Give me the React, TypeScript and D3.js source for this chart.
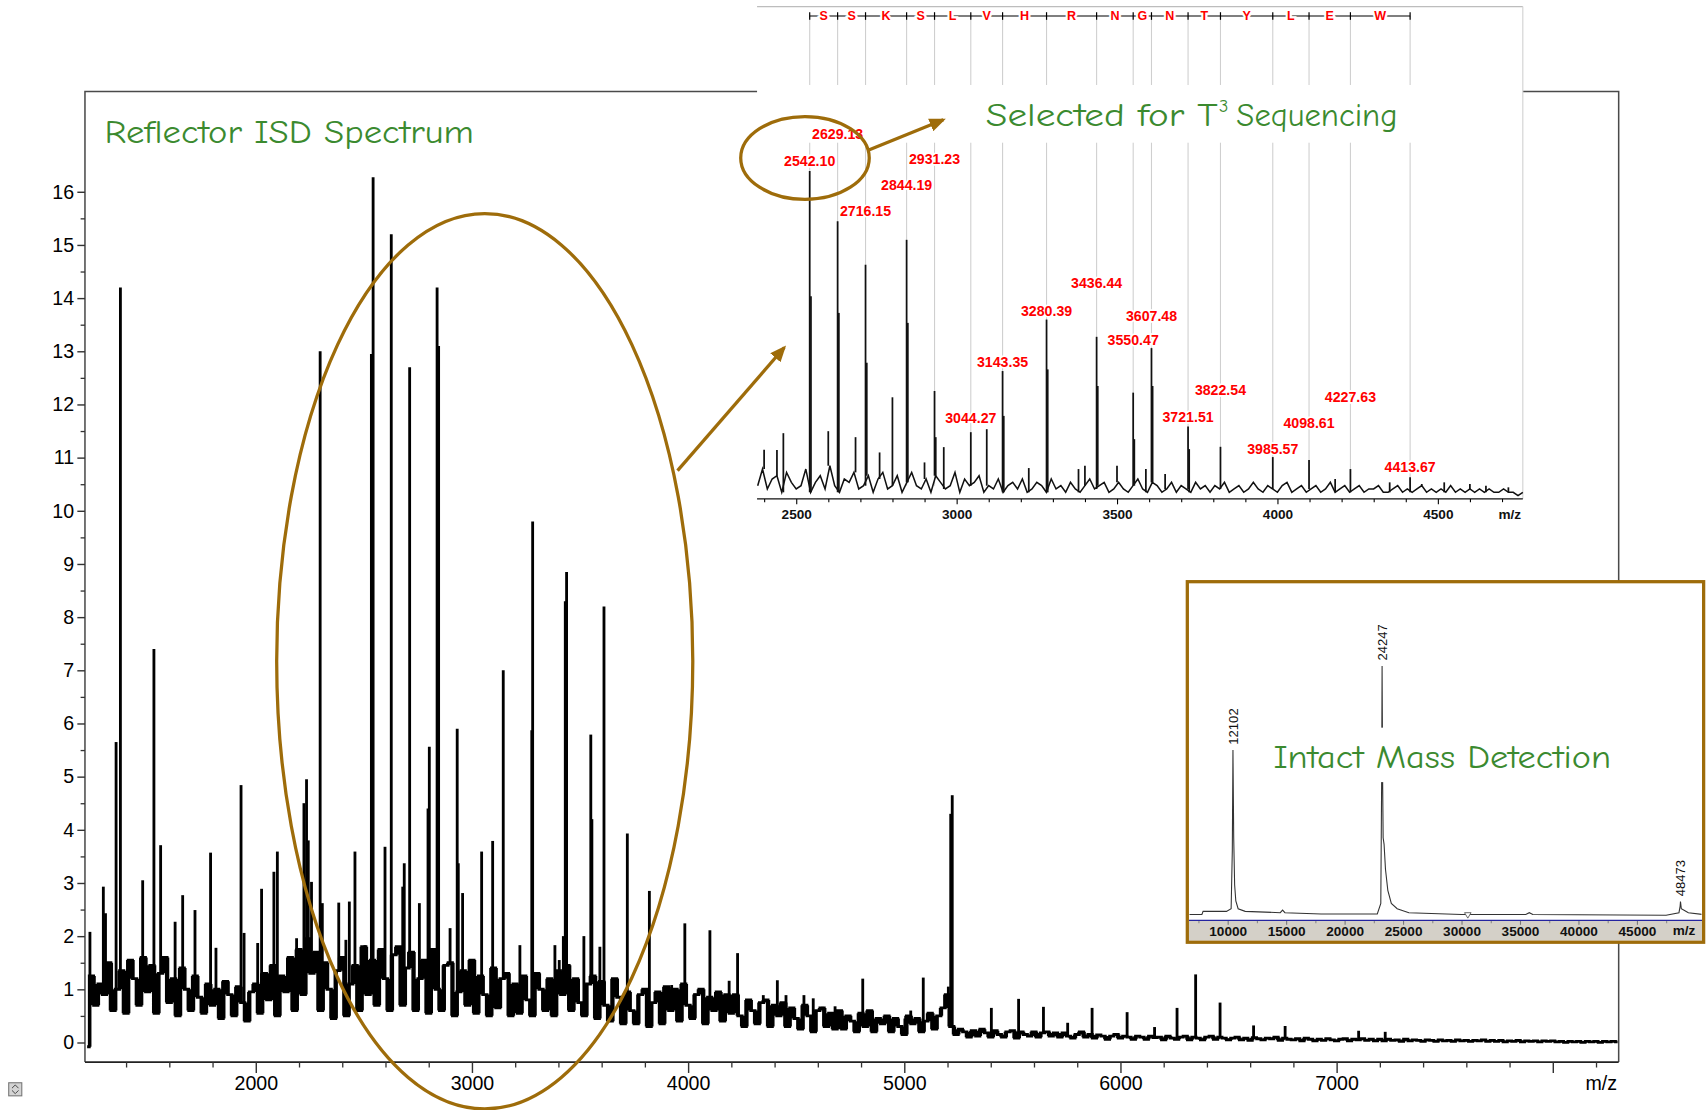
import React, { useEffect, useRef } from "react";
import * as d3 from "d3";

// ---------- Reflector ISD spectrum ----------
// noise floor, one value every 20 Da starting at 1220
const isdNoiseStart = 1220;
const isdNoiseStep = 20;
const isdNoise = [
  -0.08, 1.25, 0.7, 1.1, 0.9, 1.5, 0.6, 1.0, 1.35, 0.55, 1.55, 1.2, 0.7, 1.6, 0.95, 1.45, 0.55, 1.3, 1.6, 0.75, 1.2, 0.5, 1.4, 1.0, 0.6,
  1.25, 0.85, 0.55, 1.1, 0.7, 1.0, 0.45, 1.15, 0.9, 0.5, 1.05, 0.75, 0.4, 0.95, 1.1, 0.55, 1.3, 0.8, 1.45, 0.5, 1.25, 0.95, 1.6, 0.6, 1.75,
  0.9, 1.95, 1.3, 1.7, 0.6, 1.5, 1.0, 0.45, 1.35, 1.6, 0.5, 1.1, 1.45, 0.6, 1.8, 0.9, 1.55, 0.7, 1.75, 1.2, 0.6, 1.65, 1.8, 0.7, 1.4,
  1.7, 0.6, 1.2, 1.55, 0.55, 1.75, 1.0, 0.6, 1.45, 1.5, 0.5, 0.95, 1.35, 0.7, 1.55, 0.55, 1.25, 0.9, 0.5, 1.4, 0.65, 1.2, 1.3, 0.5, 1.1,
  0.55, 1.25, 0.8, 0.5, 1.3, 1.0, 0.6, 1.2, 0.5, 1.35, 0.9, 1.45, 0.6, 1.2, 0.75, 0.5, 1.1, 1.25, 0.45, 1.15, 0.7, 0.4, 1.2, 0.85, 0.35,
  0.95, 0.6, 0.35, 0.9, 1.0, 0.3, 0.75, 0.95, 0.35, 1.05, 0.6, 1.0, 0.4, 1.1, 0.7, 0.45, 0.9, 1.0, 0.35, 0.85, 0.6, 0.95, 0.4, 0.9, 0.55,
  0.9, 0.5, 0.3, 0.8, 0.6, 0.35, 0.75, 0.8, 0.3, 0.7, 0.5, 0.75, 0.3, 0.65, 0.45, 0.25, 0.7, 0.5, 0.2, 0.6, 0.65, 0.3, 0.55, 0.25, 0.6,
  0.25, 0.5, 0.4, 0.2, 0.55, 0.3, 0.6, 0.2, 0.45, 0.35, 0.5, 0.2, 0.45, 0.3, 0.15, 0.5, 0.35, 0.45, 0.2, 0.4, 0.55, 0.25, 0.5, 0.65, 0.9,
  0.3, 0.15, 0.25, 0.2, 0.1, 0.22, 0.12, 0.25, 0.18, 0.1, 0.22, 0.15, 0.1, 0.2, 0.22, 0.08, 0.2, 0.15, 0.12, 0.2, 0.1, 0.18, 0.2, 0.12, 0.18,
  0.1, 0.18, 0.12, 0.08, 0.15, 0.2, 0.1, 0.15, 0.08, 0.14, 0.12, 0.06, 0.12, 0.15, 0.08, 0.12, 0.1, 0.06, 0.12, 0.1, 0.06, 0.12, 0.09, 0.1, 0.05,
  0.12, 0.08, 0.06, 0.1, 0.12, 0.05, 0.1, 0.08, 0.05, 0.1, 0.12, 0.06, 0.1, 0.08, 0.05, 0.08, 0.1, 0.05, 0.08, 0.04, 0.09, 0.07, 0.05, 0.08, 0.07,
  0.1, 0.04, 0.08, 0.06, 0.05, 0.07, 0.03, 0.08, 0.06, 0.03, 0.06, 0.04, 0.07, 0.05, 0.03, 0.06, 0.07, 0.03, 0.06, 0.05, 0.07, 0.04, 0.06, 0.03, 0.06,
  0.03, 0.06, 0.04, 0.05, 0.02, 0.06, 0.03, 0.05, 0.04, 0.02, 0.05, 0.04, 0.02, 0.05, 0.03, 0.04, 0.02, 0.05, 0.03, 0.04, 0.02, 0.04, 0.03, 0.05, 0.02,
  0.04, 0.02, 0.04, 0.01, 0.03, 0.02, 0.04, 0.01, 0.03, 0.02, 0.03, 0.01, 0.03, 0.02, 0.03, 0.01, 0.02, 0.0, 0.02, 0.01, 0.02, 0.0, 0.02, 0.01, 0.02,
  0.0, 0.02, 0.01, 0.02, 0.01,
];
// [m/z, height]
const isdPeaks: [number, number][] = [
  [1233, 2.08], [1295, 2.93], [1305, 2.43], [1354, 5.65], [1374, 14.2], [1477, 3.05], [1529, 7.4], [1560, 3.71],
  [1627, 2.27], [1662, 2.77], [1719, 2.49], [1791, 3.57], [1816, 1.78], [1932, 4.84], [1946, 2.06], [2009, 1.87],
  [2027, 2.89], [2084, 3.21], [2100, 3.59], [2166, 1.61], [2189, 1.96], [2223, 4.5], [2235, 4.95], [2243, 3.8],
  [2258, 3.02], [2298, 13.0], [2308, 2.62], [2384, 2.63], [2417, 1.93], [2433, 2.65], [2459, 3.59], [2505, 1.83],
  [2535, 12.95], [2543, 16.27], [2567, 1.61], [2598, 3.68], [2627, 15.2], [2680, 2.93], [2687, 3.37], [2712, 12.7],
  [2757, 2.62], [2797, 4.4], [2803, 5.56], [2839, 14.2], [2846, 13.1], [2899, 2.15], [2932, 5.9], [2937, 3.37],
  [2957, 2.81], [3045, 3.59], [3096, 3.79], [3145, 7.0], [3222, 1.83], [3277, 5.87], [3281, 9.8], [3384, 1.83],
  [3404, 1.55], [3423, 2.0], [3432, 8.3], [3438, 8.85], [3518, 2.0], [3550, 5.79], [3555, 4.2], [3592, 1.8],
  [3611, 8.2], [3674, 1.2], [3719, 3.93], [3821, 2.85], [3924, 1.08], [3975, 1.05], [3985, 2.24], [4032, 0.92],
  [4063, 0.95], [4101, 2.11], [4190, 1.16], [4229, 1.68], [4348, 0.89], [4413, 1.17], [4453, 0.89], [4536, 0.89],
  [4579, 0.83], [4622, 0.67], [4680, 0.68], [4808, 1.2], [4845, 0.58], [5003, 0.45], [5030, 0.6], [5088, 1.22],
  [5178, 0.6], [5204, 1.05], [5215, 4.3], [5222, 4.65], [5403, 0.65], [5529, 0.82], [5644, 0.67], [5756, 0.37],
  [5869, 0.65], [6031, 0.57], [6158, 0.29], [6262, 0.65], [6348, 1.28], [6461, 0.75], [6616, 0.32], [6762, 0.31],
  [7102, 0.22], [7225, 0.2],
];
const isdYTicks = [0, 1, 2, 3, 4, 5, 6, 7, 8, 9, 10, 11, 12, 13, 14, 15, 16];
const isdXTicks = [2000, 3000, 4000, 5000, 6000, 7000, 8000];
const isdXLabels = ["2000", "3000", "4000", "5000", "6000", "7000", ""];

// ---------- T3 sequencing inset ----------
const t3NoiseStart = 2380;
const t3NoiseStep = 15;
const t3Noise = [
  3, 8, 2, 5, 6, 1, 7, 4, 2, 3, 8, 1, 4, 6, 2, 9, 3, 1, 5, 4, 7, 2, 3, 6, 1,
  5, 7, 2, 3, 6, 1, 4, 7, 3, 2, 5, 1, 6, 4, 2, 3, 7, 1, 5, 3, 4, 6, 1, 3, 2,
  5, 1, 3, 4, 2, 5, 1, 2, 4, 3, 1, 5, 2, 3, 1, 4, 2, 1, 3, 5, 2, 3, 4, 1, 2,
  4, 2, 1, 3, 5, 2, 1, 4, 3, 1, 2, 4, 1, 3, 2, 1, 4, 2, 3, 1, 3, 2, 4, 1, 2,
  3, 1, 2, 4, 2, 1, 3, 2, 1, 3, 4, 1, 2, 3, 1, 2, 3, 1, 2, 4, 1, 2, 3, 1, 2,
  3, 1, 2, 2, 3, 1, 1, 2, 3, 1, 2, 1, 2, 3, 1, 2, 1, 2, 1, 3, 1, 2, 1, 2, 1,
  2, 1, 2, 1, 1, 2, 1, 1, 0, 1,
];
const t3Peaks: [number, number][] = [
  [2400, 13.8], [2440, 13.7], [2460, 18.8], [2542.1, 97.7], [2546, 60], [2600, 19.4], [2629.13, 82.6], [2633, 55],
  [2685, 17.6], [2716.15, 69.5], [2720, 40], [2760, 13], [2800, 29.6], [2844.19, 77], [2848, 52], [2900, 10],
  [2931.23, 31.5], [2935, 17.6], [2960, 14.6], [3044.27, 19.1], [3094, 20], [3143.35, 37.5], [3147, 24], [3225, 8.3],
  [3280.39, 53], [3284, 38], [3380, 8], [3400, 9], [3436.44, 47.8], [3440, 33], [3500, 9], [3550.47, 31],
  [3554, 17], [3590, 8], [3607.48, 44.4], [3611, 33], [3650, 6.5], [3721.51, 20.8], [3725, 14], [3822.54, 14.7],
  [3985.57, 11.6], [4098.61, 10.7], [4180, 5], [4227.63, 8], [4350, 4], [4413.67, 5.5], [4450, 3.5], [4520, 4],
  [4600, 3.5], [4650, 3], [4720, 2.5],
];
const fragMasses = [
  2542.1, 2629.13, 2716.15, 2844.19, 2931.23, 3044.27, 3143.35, 3280.39, 3436.44,
  3550.47, 3607.48, 3721.51, 3822.54, 3985.57, 4098.61, 4227.63, 4413.67,
];
const fragLabelLevel = [100.7, 108.9, 85.6, 93.4, 101.3, 23.3, 40.3, 55.7, 63.9, 46.9, 54.1, 23.6, 31.8, 14.1, 22, 29.8, 8.5];
const seqLetters = ["S", "S", "K", "S", "L", "V", "H", "R", "N", "G", "N", "T", "Y", "L", "E", "W"];
const t3XTicks = [2500, 3000, 3500, 4000, 4500];

// ---------- intact mass inset ----------
const intactTrace: [number, number][] = [
  [6600, 0.8], [7800, 0.8], [7900, 2], [9900, 2], [10300, 3], [10400, 25], [10456, 63.3], [10520, 30], [10600, 12],
  [10700, 6], [10900, 3], [11500, 2], [14500, 1.5], [14700, 2.5], [14900, 1.5], [18000, 1], [22800, 1], [23100, 5],
  [23170, 50], [23210, 95.3], [23260, 50], [23300, 30], [23380, 27.5], [23500, 18], [23700, 10], [24000, 5], [24500, 3],
  [25500, 1.5], [30000, 0.8], [35500, 0.8], [35800, 1.5], [36100, 0.8], [47500, 0.5], [48600, 1.5], [48700, 4],
  [48730, 5.7], [48800, 3], [49000, 2.5], [49400, 1.5], [50700, 0.8],
];
const intactPeakPos = [10456, 23210, 48730];
const intactPeakHeight = [63.3, 95.3, 5.7];
const intactPeakLabels = ["12102", "24247", "48473"];
const intactXTicks = [10000, 15000, 20000, 25000, 30000, 35000, 40000, 45000];

const font = "Arial, 'Liberation Sans', Helvetica, sans-serif";
const comic = "'Comic Sans MS', 'Comic Neue', Lato, 'Noto Sans', sans-serif";
const brown = "#9E6C0A";
const green = "#3B8A2F";
const red = "#FF0000";

const App: React.FC = () => {
  const ref = useRef<SVGSVGElement>(null);

  useEffect(() => {
    document.body.style.margin = "0";
    document.body.style.overflow = "hidden";
    const svg = d3.select(ref.current);
    svg.selectAll("*").remove();

    const defs = svg.append("defs");
    defs
      .append("marker")
      .attr("id", "ah")
      .attr("viewBox", "0 0 12 10")
      .attr("refX", 10)
      .attr("refY", 5)
      .attr("markerWidth", 15)
      .attr("markerHeight", 12.5)
      .attr("markerUnits", "userSpaceOnUse")
      .attr("orient", "auto")
      .append("path")
      .attr("d", "M0,0L12,5L0,10z")
      .attr("fill", brown);

    // ================= main ISD plot =================
    const fr = { l: 78, t: 84, r: 1486, b: 975 };
    const x = d3.scaleLinear().domain([1210, 8305]).range([fr.l, fr.r]);
    const y = d3.scaleLinear().domain([0, 16]).range([957, 176]);

    svg
      .append("path")
      .attr("d", `M${fr.l},${fr.b}V${fr.t}H${fr.r}V${fr.b}`)
      .attr("fill", "none")
      .attr("stroke", "#4a4a4a")
      .attr("stroke-width", 1.4);
    svg
      .append("line")
      .attr("x1", fr.l)
      .attr("x2", fr.r)
      .attr("y1", fr.b)
      .attr("y2", fr.b)
      .attr("stroke", "#222")
      .attr("stroke-width", 1.6);

    const gy = svg
      .append("g")
      .attr("transform", `translate(${fr.l},0)`)
      .call(d3.axisLeft(y).tickValues(isdYTicks).tickSize(7).tickPadding(3).tickFormat(d3.format("d")));
    gy.select(".domain").remove();
    gy.attr("font-family", font).attr("font-size", 18);
    gy.selectAll("text").attr("fill", "#000");
    gy.selectAll("line").attr("stroke", "#333").attr("stroke-width", 1.3);

    const gyMinor = svg
      .append("g")
      .attr("transform", `translate(${fr.l},0)`)
      .call(d3.axisLeft(y).tickValues(isdYTicks.slice(0, -1).map((v) => v + 0.5)).tickSize(4).tickFormat(() => ""));
    gyMinor.select(".domain").remove();
    gyMinor.selectAll("line").attr("stroke", "#333").attr("stroke-width", 1.2);

    const gx = svg
      .append("g")
      .attr("transform", `translate(0,${fr.b})`)
      .call(
        d3
          .axisBottom(x)
          .tickValues(isdXTicks)
          .tickSize(10)
          .tickPadding(3)
          .tickFormat((_, i) => isdXLabels[i])
      );
    gx.select(".domain").remove();
    gx.attr("font-family", font).attr("font-size", 18);
    gx.selectAll("text").attr("fill", "#000");
    gx.selectAll("line").attr("stroke", "#333").attr("stroke-width", 1.3);

    const gxMinor = svg
      .append("g")
      .attr("transform", `translate(0,${fr.b})`)
      .call(
        d3
          .axisBottom(x)
          .tickValues(d3.range(1400, 8300, 200).filter((v) => v % 1000 !== 0))
          .tickSize(5)
          .tickFormat(() => "")
      );
    gxMinor.select(".domain").remove();
    gxMinor.selectAll("line").attr("stroke", "#333").attr("stroke-width", 1.2);

    svg
      .append("text")
      .attr("x", 1470)
      .attr("y", 1001)
      .attr("text-anchor", "middle")
      .attr("font-family", font)
      .attr("font-size", 18)
      .attr("fill", "#000")
      .text("m/z");

    const isdPts = isdNoise.map((v, i) => [isdNoiseStart + i * isdNoiseStep, v] as [number, number]);
    // filled band between neighbouring noise samples, so the floor reads as a dense trace
    const band = isdPts.slice(0, -1).map((d, i) => ({
      mz: d[0],
      lo: Math.min(d[1], isdPts[i + 1][1]),
      hi: Math.max(d[1], isdPts[i + 1][1]),
    }));
    svg
      .append("path")
      .datum(band)
      .attr(
        "d",
        d3
          .area<{ mz: number; lo: number; hi: number }>()
          .x((d) => x(d.mz + isdNoiseStep / 2))
          .y0((d) => y(d.lo))
          .y1((d) => y(d.hi))
          .curve(d3.curveStep)
      )
      .attr("fill", "#000");
    svg
      .append("path")
      .datum(isdPts)
      .attr(
        "d",
        d3
          .line<[number, number]>()
          .x((d) => x(d[0]))
          .y((d) => y(d[1]))
          .curve(d3.curveStep)
      )
      .attr("fill", "none")
      .attr("stroke", "#000")
      .attr("stroke-width", 2.6);

    const isdBase = (mz: number) =>
      isdNoise[Math.max(0, Math.min(isdNoise.length - 1, Math.round((mz - isdNoiseStart) / isdNoiseStep)))];
    svg
      .append("g")
      .selectAll("line")
      .data(isdPeaks)
      .join("line")
      .attr("x1", (d) => x(d[0]))
      .attr("x2", (d) => x(d[0]))
      .attr("y1", (d) => y(Math.min(isdBase(d[0]), d[1])))
      .attr("y2", (d) => y(d[1]))
      .attr("stroke", "#000")
      .attr("stroke-width", 2.6);

    // big selection ellipse
    svg
      .append("ellipse")
      .attr("cx", 445)
      .attr("cy", 607)
      .attr("rx", 191)
      .attr("ry", 411)
      .attr("fill", "none")
      .attr("stroke", brown)
      .attr("stroke-width", 3);

    svg
      .append("text")
      .attr("x", 96)
      .attr("y", 131)
      .attr("font-family", comic)
      .attr("font-size", 29)
      .attr("fill", green)
      .attr("textLength", 339)
      .attr("lengthAdjust", "spacingAndGlyphs")
      .text("Reflector ISD Spectrum");

    // small icon bottom-left
    svg.append("rect").attr("x", 8).attr("y", 994).attr("width", 12).attr("height", 12).attr("fill", "#d4d4d4").attr("stroke", "#777");
    svg.append("path").attr("d", "M11,999l3,-3l3,3M11,1001l3,3l3,-3").attr("fill", "none").attr("stroke", "#444").attr("stroke-width", 0.9);

    // ================= T3 inset =================
    const ix = d3.scaleLinear().domain([2378, 4765]).range([695, 1398]);
    const iy = d3.scaleLinear().domain([0, 100]).range([455, 150]);
    const seqY = 14.7;

    svg.append("rect").attr("x", 695).attr("y", 2).attr("width", 703).attr("height", 480).attr("fill", "#fff");
    svg.append("line").attr("x1", 695).attr("x2", 1398).attr("y1", 6).attr("y2", 6).attr("stroke", "#bdbdbd").attr("stroke-width", 1.2);
    svg.append("line").attr("x1", 1398).attr("x2", 1398).attr("y1", 6).attr("y2", 458).attr("stroke", "#d0d0d0").attr("stroke-width", 1);

    svg
      .append("g")
      .selectAll("line")
      .data(fragMasses)
      .join("line")
      .attr("x1", (d) => ix(d))
      .attr("x2", (d) => ix(d))
      .attr("y1", seqY)
      .attr("y2", iy(3))
      .attr("stroke", "#cfcfcf")
      .attr("stroke-width", 1);
    // band behind the heading
    svg.append("rect").attr("x", 696).attr("y", 78).attr("width", 701).attr("height", 53).attr("fill", "#fff");

    // sequence ladder
    svg
      .append("line")
      .attr("x1", ix(fragMasses[0]))
      .attr("x2", ix(fragMasses[fragMasses.length - 1]))
      .attr("y1", seqY)
      .attr("y2", seqY)
      .attr("stroke", "#000")
      .attr("stroke-width", 1.1);
    svg
      .append("g")
      .selectAll("line")
      .data(fragMasses)
      .join("line")
      .attr("x1", (d) => ix(d))
      .attr("x2", (d) => ix(d))
      .attr("y1", seqY - 3.5)
      .attr("y2", seqY + 3.5)
      .attr("stroke", "#000")
      .attr("stroke-width", 1.1);
    svg
      .append("g")
      .selectAll("text")
      .data(seqLetters)
      .join("text")
      .attr("x", (_, i) => (ix(fragMasses[i]) + ix(fragMasses[i + 1])) / 2)
      .attr("y", seqY + 4)
      .attr("text-anchor", "middle")
      .attr("font-family", font)
      .attr("font-weight", "bold")
      .attr("font-size", 11.5)
      .attr("fill", red)
      .attr("stroke", "#fff")
      .attr("stroke-width", 4)
      .attr("paint-order", "stroke")
      .text((d) => d);

    // inset spectrum
    const t3Pts = t3Noise.map((v, i) => [t3NoiseStart + i * t3NoiseStep, v] as [number, number]);
    svg
      .append("path")
      .datum(t3Pts)
      .attr(
        "d",
        d3
          .line<[number, number]>()
          .x((d) => ix(d[0]))
          .y((d) => iy(d[1]))
      )
      .attr("fill", "none")
      .attr("stroke", "#111")
      .attr("stroke-width", 1.4);
    const t3Base = (mz: number) =>
      t3Noise[Math.max(0, Math.min(t3Noise.length - 1, Math.round((mz - t3NoiseStart) / t3NoiseStep)))];
    svg
      .append("g")
      .selectAll("line")
      .data(t3Peaks)
      .join("line")
      .attr("x1", (d) => ix(d[0]))
      .attr("x2", (d) => ix(d[0]))
      .attr("y1", (d) => iy(t3Base(d[0])))
      .attr("y2", (d) => iy(d[1]))
      .attr("stroke", "#111")
      .attr("stroke-width", 1.6);

    const ga = svg
      .append("g")
      .attr("transform", "translate(0,458)")
      .call(d3.axisBottom(ix).tickValues(t3XTicks).tickSize(5).tickSizeOuter(0).tickPadding(4.5).tickFormat(d3.format("d")));
    ga.select(".domain").attr("stroke", "#111").attr("stroke-width", 1.2).attr("d", "M695,0H1398");
    ga.attr("font-family", font).attr("font-size", 12.5).attr("font-weight", "bold");
    ga.selectAll("text").attr("fill", "#111");
    const gaMinor = svg
      .append("g")
      .attr("transform", "translate(0,458)")
      .call(
        d3
          .axisBottom(ix)
          .tickValues(d3.range(2400, 4800, 100).filter((v) => v % 500 !== 0))
          .tickSize(3)
          .tickFormat(() => "")
      );
    gaMinor.select(".domain").remove();
    svg
      .append("text")
      .attr("x", 1386)
      .attr("y", 476)
      .attr("text-anchor", "middle")
      .attr("font-family", font)
      .attr("font-size", 12.5)
      .attr("font-weight", "bold")
      .attr("fill", "#111")
      .text("m/z");

    svg
      .append("g")
      .selectAll("text")
      .data(fragMasses)
      .join("text")
      .attr("x", (d) => ix(d))
      .attr("y", (_, i) => iy(fragLabelLevel[i]) + 4.6)
      .attr("text-anchor", "middle")
      .attr("font-family", font)
      .attr("font-weight", "bold")
      .attr("font-size", 13)
      .attr("fill", red)
      .attr("stroke", "#fff")
      .attr("stroke-width", 3)
      .attr("paint-order", "stroke")
      .text((d) => d.toFixed(2));

    // heading + callouts
    const head = svg.append("g").attr("font-family", comic).attr("fill", green);
    head
      .append("text")
      .attr("x", 905)
      .attr("y", 116)
      .attr("font-size", 30)
      .attr("textLength", 213)
      .attr("lengthAdjust", "spacingAndGlyphs")
      .text("Selected for T");
    head.append("text").attr("x", 1119).attr("y", 103).attr("font-size", 17).text("3");
    head
      .append("text")
      .attr("x", 1135)
      .attr("y", 116)
      .attr("font-size", 30)
      .attr("textLength", 148)
      .attr("lengthAdjust", "spacingAndGlyphs")
      .text("Sequencing");

    svg
      .append("ellipse")
      .attr("cx", 739)
      .attr("cy", 145)
      .attr("rx", 59)
      .attr("ry", 38)
      .attr("fill", "none")
      .attr("stroke", brown)
      .attr("stroke-width", 3);
    svg
      .append("line")
      .attr("x1", 797)
      .attr("y1", 138)
      .attr("x2", 866)
      .attr("y2", 110)
      .attr("stroke", brown)
      .attr("stroke-width", 3)
      .attr("marker-end", "url(#ah)");
    svg
      .append("line")
      .attr("x1", 622)
      .attr("y1", 432)
      .attr("x2", 720)
      .attr("y2", 319)
      .attr("stroke", brown)
      .attr("stroke-width", 3)
      .attr("marker-end", "url(#ah)");

    // ================= intact mass inset =================
    const box = { l: 1090, t: 534, r: 1564, b: 865 };
    const jx = d3.scaleLinear().domain([6553, 50710]).range([box.l, box.r]);
    const jy = d3.scaleLinear().domain([0, 100]).range([841.5, 600]);

    svg
      .append("rect")
      .attr("x", box.l)
      .attr("y", box.t)
      .attr("width", box.r - box.l)
      .attr("height", box.b - box.t)
      .attr("fill", "#fff");
    svg
      .append("rect")
      .attr("x", box.l + 1.5)
      .attr("y", 845)
      .attr("width", box.r - box.l - 3)
      .attr("height", box.b - 845 - 1.5)
      .attr("fill", "#d4d0c8");

    defs
      .append("clipPath")
      .attr("id", "intactClip")
      .append("rect")
      .attr("x", box.l + 2)
      .attr("y", box.t + 2)
      .attr("width", box.r - box.l - 4)
      .attr("height", 845 - box.t - 2);
    svg
      .append("path")
      .datum(intactTrace)
      .attr("clip-path", "url(#intactClip)")
      .attr(
        "d",
        d3
          .line<[number, number]>()
          .x((d) => jx(d[0]))
          .y((d) => jy(d[1]))
      )
      .attr("fill", "none")
      .attr("stroke", "#333")
      .attr("stroke-width", 1);
    svg
      .append("path")
      .attr("d", `M${jx(30540) - 3},${jy(1.5)}h6l-3,5z`)
      .attr("fill", "#fff")
      .attr("stroke", "#555")
      .attr("stroke-width", 0.8);

    svg
      .append("g")
      .selectAll("text")
      .data(intactPeakLabels)
      .join("text")
      .attr("transform", (_, i) => `translate(${jx(intactPeakPos[i]) + 4.5},${jy(intactPeakHeight[i]) - 5}) rotate(-90)`)
      .attr("font-family", font)
      .attr("font-size", 12)
      .attr("fill", "#111")
      .text((d) => d);

    svg.append("rect").attr("x", 1166).attr("y", 668).attr("width", 316).attr("height", 50).attr("fill", "#fff");
    svg
      .append("text")
      .attr("x", 1169)
      .attr("y", 705.5)
      .attr("font-family", comic)
      .attr("font-size", 30)
      .attr("fill", green)
      .attr("textLength", 310)
      .attr("lengthAdjust", "spacingAndGlyphs")
      .text("Intact Mass Detection");

    const gb = svg
      .append("g")
      .attr("transform", "translate(0,845)")
      .call(d3.axisBottom(jx).tickValues(intactXTicks).tickSize(4).tickPadding(1.5).tickFormat(d3.format("d")));
    gb.select(".domain").remove();
    gb.attr("font-family", font).attr("font-size", 12.5).attr("font-weight", "bold");
    gb.selectAll("text").attr("fill", "#111");
    gb.selectAll("line").attr("stroke", "#777");
    const gbMinor = svg
      .append("g")
      .attr("transform", "translate(0,845)")
      .call(
        d3
          .axisBottom(jx)
          .tickValues(d3.range(7500, 50000, 2500).filter((v) => v % 5000 !== 0))
          .tickSize(2.5)
          .tickFormat(() => "")
      );
    gbMinor.select(".domain").remove();
    gbMinor.selectAll("line").attr("stroke", "#888");
    svg
      .append("line")
      .attr("x1", box.l + 1.5)
      .attr("x2", box.r - 1.5)
      .attr("y1", 845)
      .attr("y2", 845)
      .attr("stroke", "#2424a0")
      .attr("stroke-width", 1.2);
    svg
      .append("text")
      .attr("x", 1546)
      .attr("y", 858)
      .attr("text-anchor", "middle")
      .attr("font-family", font)
      .attr("font-size", 12.5)
      .attr("font-weight", "bold")
      .attr("fill", "#111")
      .text("m/z");
    svg
      .append("rect")
      .attr("x", box.l)
      .attr("y", box.t)
      .attr("width", box.r - box.l)
      .attr("height", box.b - box.t)
      .attr("fill", "none")
      .attr("stroke", brown)
      .attr("stroke-width", 3);
  }, []);

  return (
    <svg
      ref={ref}
      width={1708}
      height={1110}
      viewBox="0 0 1568 1019"
      style={{ position: "absolute", left: 0, top: 0, display: "block", background: "#fff" }}
    />
  );
};

export default App;
